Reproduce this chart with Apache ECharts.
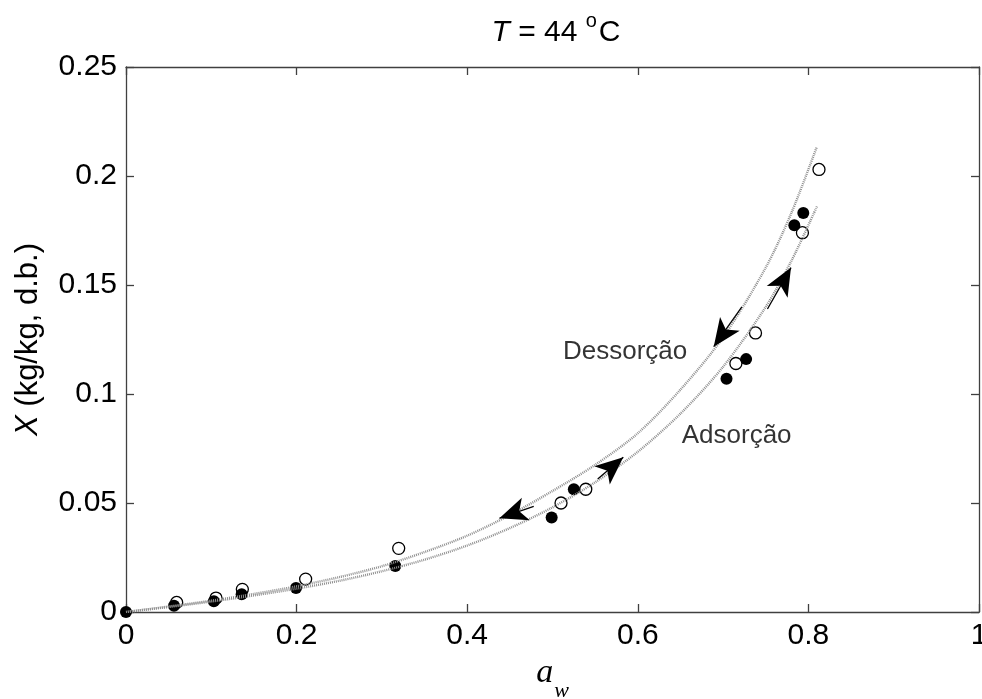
<!DOCTYPE html>
<html>
<head>
<meta charset="utf-8">
<script src="https://cdn.jsdelivr.net/npm/echarts@6/dist/echarts.min.js"></script>
<style>
html,body{margin:0;padding:0;background:#fff;}
#chart{width:982px;height:699px;}
</style>
</head>
<body>
<div id="chart"></div>
<script>
// ---- data ----
const xTicks = [0, 0.2, 0.4, 0.6, 0.8, 1];
const yTicks = [0, 0.05, 0.1, 0.15, 0.2, 0.25];

const filledAw = [0, 0.0563, 0.103, 0.1356, 0.1993, 0.3157, 0.499, 0.525, 0.704, 0.727, 0.7835, 0.794];
const filledX  = [0, 0.0029, 0.0049, 0.0081, 0.011, 0.0211, 0.0434, 0.0563, 0.107, 0.116, 0.1774, 0.183];

const openAw = [0.0594, 0.1055, 0.1364, 0.2106, 0.3197, 0.510, 0.539, 0.715, 0.738, 0.793, 0.8124];
const openX  = [0.0044, 0.0064, 0.0104, 0.0151, 0.0292, 0.050, 0.0563, 0.114, 0.128, 0.174, 0.203];

const curveAw = [0, 0.05, 0.1, 0.15, 0.2, 0.25, 0.3, 0.35, 0.4, 0.45, 0.5, 0.55, 0.6, 0.65, 0.7, 0.75, 0.78, 0.81];
const desorpX = [0, 0.0025, 0.0052, 0.0083, 0.0118, 0.016, 0.021, 0.0275, 0.035, 0.0445, 0.0555, 0.0675, 0.082, 0.102, 0.126, 0.158, 0.183, 0.2135];
const adsorpX = [0, 0.0023, 0.0048, 0.0076, 0.0107, 0.0143, 0.0187, 0.024, 0.0305, 0.0385, 0.048, 0.0595, 0.0735, 0.091, 0.1125, 0.14, 0.161, 0.186];

const arrowTail = [[0.722, 0.140], [0.752, 0.139], [0.553, 0.061], [0.478, 0.0485]];
const arrowTip  = [[0.689, 0.1217], [0.7796, 0.158], [0.583, 0.071], [0.4377, 0.043]];

const textNames = ['Dessorção', 'Adsorção'];
const textAw = [0.5123, 0.6515];
const textX  = [0.1195, 0.081];

// ---- build ----
const zip = (a, b) => a.map((v, i) => [v, b[i]]);
const FONT = "'Liberation Sans', Arial, sans-serif";
const SERIF = "'Liberation Serif', 'Times New Roman', serif";
const AX = '#404040';

const chart = echarts.init(document.getElementById('chart'), null, {renderer: 'canvas'});

const baseAxis = {
  type: 'value',
  axisLine: {show: true, onZero: false, lineStyle: {color: AX, width: 1.3}},
  axisTick: {show: true, inside: true, length: 8, lineStyle: {color: AX, width: 1.3}},
  splitLine: {show: false}
};

chart.setOption({
  animation: false,
  backgroundColor: '#fff',
  title: {
    text: '{it|T} = 44 {sup|o}C',
    left: 551, textAlign: 'center', top: 6,
    textStyle: {
      fontFamily: FONT, fontSize: 30, fontWeight: 'normal', color: '#000',
      rich: {
        it: {fontFamily: FONT, fontSize: 30, fontStyle: 'italic', color: '#000'},
        sup: {fontFamily: FONT, fontSize: 20, color: '#000', verticalAlign: 'top', padding: [0, 2, 24, 0]}
      }
    }
  },
  grid: {left: 126, right: 3, top: 67, bottom: 87, containLabel: false, outerBoundsMode: 'none'},
  xAxis: [
    Object.assign({}, baseAxis, {
      min: xTicks[0], max: xTicks[xTicks.length - 1], interval: 0.2, position: 'bottom',
      axisLabel: {fontFamily: FONT, fontSize: 30, color: '#000', margin: 9},
      name: '{a|a}{w|w}', nameLocation: 'middle', nameGap: 44,
      nameTextStyle: {
        rich: {
          a: {fontFamily: SERIF, fontStyle: 'italic', fontSize: 34, color: '#000', verticalAlign: 'top'},
          w: {fontFamily: SERIF, fontStyle: 'italic', fontSize: 22, color: '#000', verticalAlign: 'bottom', padding: [24, 0, 0, 1]}
        }
      }
    }),
    Object.assign({}, baseAxis, {
      min: xTicks[0], max: xTicks[xTicks.length - 1], interval: 0.2, position: 'top',
      axisLabel: {show: false}
    })
  ],
  yAxis: [
    Object.assign({}, baseAxis, {
      min: yTicks[0], max: yTicks[yTicks.length - 1], interval: 0.05, position: 'left',
      axisLabel: {fontFamily: FONT, fontSize: 30, color: '#000', margin: 9},
      name: '{i|X} (kg/kg, d.b.)', nameLocation: 'middle', nameRotate: 90, nameGap: 82,
      nameTextStyle: {
        fontFamily: FONT, fontSize: 31, color: '#000',
        rich: {i: {fontFamily: FONT, fontSize: 31, fontStyle: 'italic', color: '#000'}}
      }
    }),
    Object.assign({}, baseAxis, {
      min: yTicks[0], max: yTicks[yTicks.length - 1], interval: 0.05, position: 'right',
      axisLabel: {show: false}
    })
  ],
  series: [
    {
      type: 'line', name: 'Dessorção curve', data: zip(curveAw, desorpX),
      smooth: 0.3, showSymbol: false, silent: true,
      lineStyle: {color: '#8f8f8f', width: 2.4, type: [1, 1]}
    },
    {
      type: 'line', name: 'Adsorção curve', data: zip(curveAw, adsorpX),
      smooth: 0.3, showSymbol: false, silent: true,
      lineStyle: {color: '#8f8f8f', width: 2.4, type: [1, 1]},
      markLine: {
        silent: true, animation: false,
        symbol: ['none', 'arrow'], symbolSize: [18, 28],
        label: {show: false},
        lineStyle: {color: '#000', width: 1.3, type: 'solid'},
        emphasis: {disabled: true},
        data: arrowTail.map((t, i) => [{coord: t}, {coord: arrowTip[i]}])
      }
    },
    {
      type: 'scatter', name: 'filled', data: zip(filledAw, filledX),
      symbol: 'circle', symbolSize: 12,
      itemStyle: {color: '#000', opacity: 1}
    },
    {
      type: 'scatter', name: 'open', data: zip(openAw, openX),
      symbol: 'circle', symbolSize: 12,
      itemStyle: {color: 'rgba(0,0,0,0)', borderColor: '#000', borderWidth: 1.3, opacity: 1}
    },
    {
      type: 'scatter', name: 'labels',
      data: textNames.map((n, i) => ({name: n, value: [textAw[i], textX[i]]})),
      symbolSize: 0, silent: true,
      label: {show: true, position: 'right', distance: 0, formatter: '{b}', fontFamily: FONT, fontSize: 26, color: '#000'}
    }
  ]
});
</script>
</body>
</html>
